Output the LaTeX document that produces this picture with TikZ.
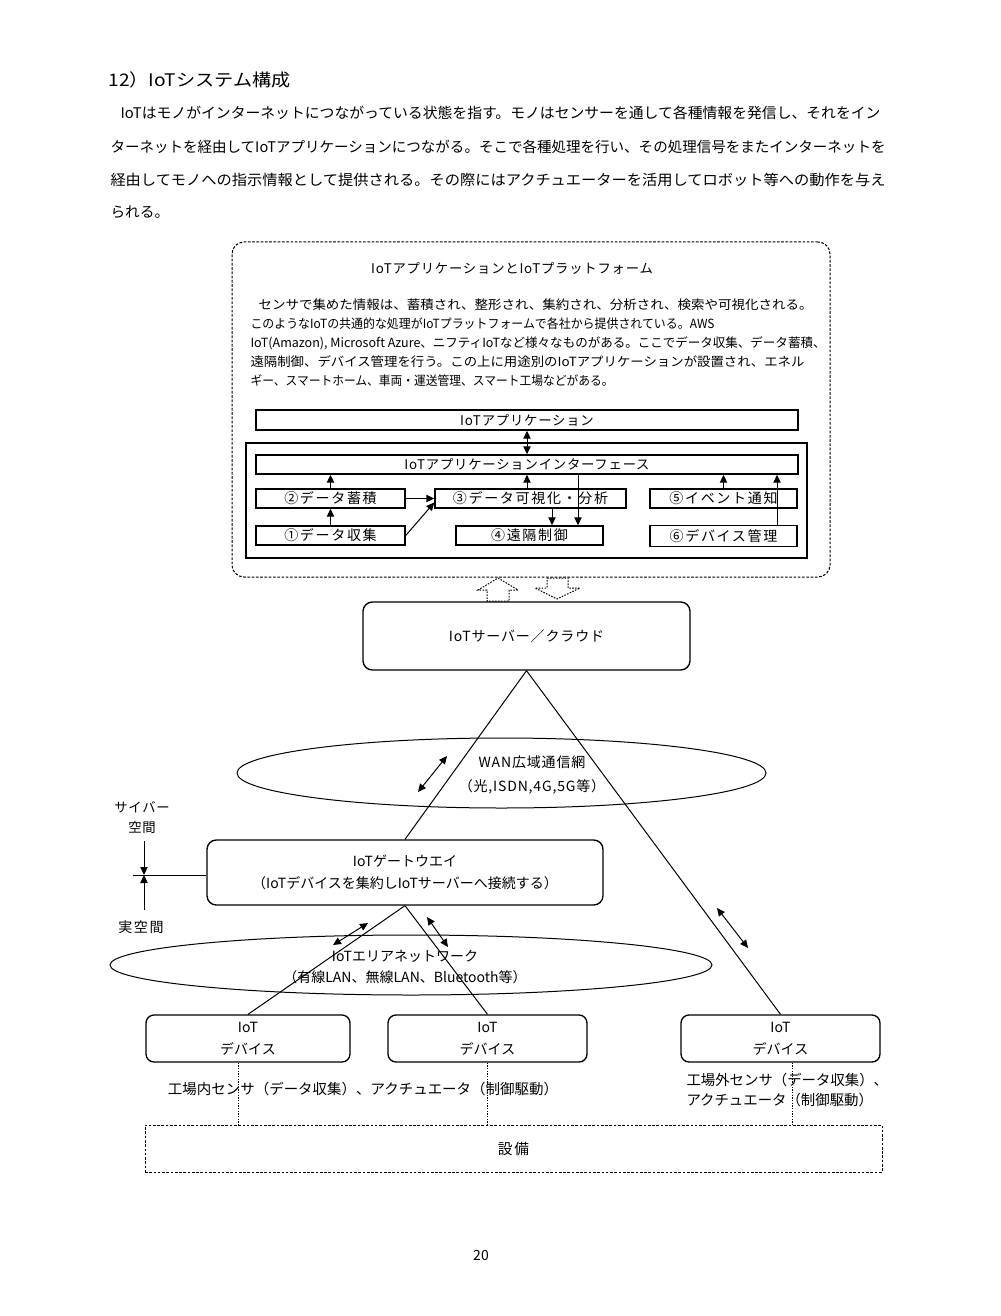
\documentclass[tikz,border=0pt]{standalone}
\usepackage{fontspec}
\usepackage{graphicx}
\setmainfont{Noto Sans CJK JP}
\newfontfamily\jpwide[LetterSpace=12]{Noto Sans CJK JP}
\newfontfamily\jpmid[LetterSpace=6]{Noto Sans CJK JP}
\usetikzlibrary{arrows.meta,calc,shapes.geometric}
\newcommand{\fitw}[2]{\resizebox{#1}{\height}{#2}}

\tikzset{every picture/.style={line width=0.75pt}}
\tikzset{
  fbox/.style={draw, line width=1.1pt, inner sep=0pt, minimum height=14.25pt, font=\jpwide\fontsize{10.5}{12}\selectfont},
  lbox/.style={draw, line width=1.1pt, inner sep=0pt, minimum width=406.5pt, font=\jpmid\fontsize{10}{11}\selectfont},
  rbox/.style={draw, line width=1pt, rounded corners=7pt, inner sep=0pt, align=center},
  oval/.style={draw, ellipse, inner sep=0pt},
  arr/.style={-{Triangle[length=6pt,width=5.5pt]}},
  darr/.style={{Triangle[length=6pt,width=5.5pt]}-{Triangle[length=6pt,width=5.5pt]}},
  hollow/.style={dash pattern=on 1.2pt off 1pt},
  dotline/.style={dash pattern=on 1pt off 1pt},
  ptext/.style={anchor=west, inner sep=0pt, font=\fontsize{9.5}{11}\selectfont},
  btext/.style={anchor=west, inner sep=0pt, font=\fontsize{11}{13}\selectfont}
}

\begin{document}
\begin{tikzpicture}[x=0.75pt,y=0.75pt,yscale=-1,xscale=1]
\useasboundingbox (0,0) rectangle (1000,1316);
\fill [white] (0,0) rectangle (1000,1316);

% Text Node
\node [anchor=west, inner sep=0pt, font=\fontsize{13}{15}\selectfont] (title) at (108,80) {\fitw{136.5pt}{12）IoTシステム構成}};
% Text Node
\node [btext] (para1) at (120,113) {\fitw{570pt}{IoTはモノがインターネットにつながっている状態を指す。モノはセンサーを通して各種情報を発信し、それをイン}};
% Text Node
\node [btext] (para2) at (110,147) {\fitw{581.25pt}{ターネットを経由してIoTアプリケーションにつながる。そこで各種処理を行い、その処理信号をまたインターネットを}};
% Text Node
\node [btext] (para3) at (110,180) {\fitw{581.25pt}{経由してモノへの指示情報として提供される。その際にはアクチュエーターを活用してロボット等への動作を与え}};
% Text Node
\node [btext] (para4) at (110,212) {られる。};

%Shape: Rounded Rect [id:platform]
\node [draw, dash pattern=on 2pt off 1.2pt, rounded corners=9pt, minimum width=448.5pt, minimum height=251.25pt] (platform) at (531,409.5) {};
% Text Node
\node [inner sep=0pt, font=\jpmid\fontsize{10}{11}\selectfont] (ptitle) at (512,268) {IoTアプリケーションとIoTプラットフォーム};
% Text Node
\node [ptext] (pline1) at (258,305) {\fitw{415.5pt}{センサで集めた情報は、蓄積され、整形され、集約され、分析され、検索や可視化される。}};
\node [ptext] (pline2) at (250,324) {\fitw{348pt}{このようなIoTの共通的な処理がIoTプラットフォームで各社から提供されている。AWS}};
\node [ptext] (pline3) at (250,343) {\fitw{431.25pt}{IoT(Amazon), Microsoft Azure、ニフティIoTなど様々なものがある。ここでデータ収集、データ蓄積、}};
\node [ptext] (pline4) at (250,362) {\fitw{415.5pt}{遠隔制御、デバイス管理を行う。この上に用途別のIoTアプリケーションが設置され、エネル}};
\node [ptext] (pline5) at (250,381) {\fitw{272.25pt}{ギー、スマートホーム、車両・運送管理、スマート工場などがある。}};

%Shape: Rectangle [id:app]
\node [lbox, minimum height=15pt] (app) at (527,420) {IoTアプリケーション};
%Shape: Rectangle [id:core]
\node [draw, line width=1pt, minimum width=420.75pt, minimum height=86.25pt] (core) at (526.5,500.5) {};
%Shape: Rectangle [id:iface]
\node [lbox, minimum height=14.25pt] (iface) at (527,464.5) {IoTアプリケーションインターフェース};
%Shape: Rectangle [id:store]
\node [fbox, minimum width=111.75pt] (store) at (330.5,498.5) {②データ蓄積};
\node [fbox, minimum width=111.75pt] (collect) at (330.5,535.5) {①データ収集};
\node [fbox, minimum width=143.25pt] (visual) at (530.5,498.5) {③データ可視化・分析};
\node [fbox, minimum width=110.25pt] (remote) at (529.5,535.5) {④遠隔制御};
\node [fbox, minimum width=110.25pt] (event) at (723.5,498.5) {⑤イベント通知};
\node [fbox, minimum width=110.25pt, minimum height=15.75pt] (devmgmt) at (723.5,536) {⑥デバイス管理};

%Straight Lines
\draw [darr] (app.south) -- (iface.north);
\draw [arr] (store.north) -- (store.north |- iface.south);
\draw [arr] (collect.north) -- (store.south);
\draw [arr] (store.east) -- (visual.west);
\draw [arr] (collect.east) -- ($(visual.west)+(0,4)$);
\draw [arr] (app.south |- visual.north) -- (app.south |- iface.south);
\coordinate (c34) at ($(visual.south)+(21.5,0)$);
\draw [arr] (c34) -- (c34 |- remote.north);
\coordinate (c4) at ($(remote.north)+(48.5,0)$);
\draw [arr] (c4 |- iface.south) -- (c4);
\draw [arr] (event.north) -- (event.north |- iface.south);
\coordinate (c6) at ($(devmgmt.north)+(53.5,0)$);
\draw [arr] (c6) -- (c6 |- iface.south);

%Shape: Up Arrow
\draw [hollow] (498,578) -- (518,590) -- (509,590) -- (509,601) -- (487,601) -- (487,590) -- (478,590) -- cycle;
%Shape: Down Arrow
\draw [hollow] (547,578) -- (568,578) -- (568,588) -- (580,588) -- (557,599) -- (535,588) -- (547,588) -- cycle;

%Shape: Rounded Rect [id:server]
\node [rbox, minimum width=245.25pt, minimum height=51pt, font=\jpmid\fontsize{10.5}{12}\selectfont] (server) at (526.5,636) {IoTサーバー／クラウド};

%Shape: Ellipse [id:wan]
\node [oval, minimum width=396.75pt, minimum height=52.5pt] (wan) at (501.5,773) {};
% Text Node
\node [inner sep=0pt, align=center, font=\jpmid\fontsize{10.5}{18}\selectfont] (wantxt) at (532,775) {WAN広域通信網\\（光,ISDN,4G,5G等）};

%Shape: Rounded Rect [id:gw]
\node [rbox, minimum width=297pt, minimum height=48.75pt, font=\fontsize{10.5}{16.5}\selectfont] (gw) at (405,872.5) {IoTゲートウエイ\\（IoTデバイスを集約しIoTサーバーへ接続する）};

%Straight Lines
\draw (server.south) -- (gw.north);
\coordinate (w1) at (447,756);
\coordinate (w2) at (418,792);
\draw [darr] (w1) -- (w2);

% Text Node
\node [inner sep=0pt, align=center, font=\jpmid\fontsize{10}{15}\selectfont] (cyber) at (142,818) {サイバー\\空間};
\node [inner sep=0pt, font=\jpwide\fontsize{10.5}{12}\selectfont] (real) at (141,927) {実空間};
\coordinate (bnd) at (133,875);
\draw (bnd) -- (gw.west |- bnd);
\coordinate (ca) at (144,841);
\draw [arr] (ca) -- (ca |- bnd);
\coordinate (ra) at (144,910);
\draw [arr] (ra) -- (ra |- bnd);

%Shape: Ellipse [id:area]
\node [oval, minimum width=451.5pt, minimum height=45pt] (area) at (411,965) {};
% Text Node
\node [inner sep=0pt, align=center, font=\fontsize{10.5}{15.75}\selectfont] (areatxt) at (405,967) {IoTエリアネットワーク\\（有線LAN、無線LAN、Bluetooth等）};

%Shape: Rounded Rect [id:dev]
\node [rbox, rounded corners=6pt, minimum width=153pt, minimum height=35.25pt, font=\fontsize{10.5}{16.5}\selectfont] (dev1) at (248,1038.5) {IoT\\デバイス};
\node [rbox, rounded corners=6pt, minimum width=149.25pt, minimum height=35.25pt, font=\fontsize{10.5}{16.5}\selectfont] (dev2) at (487.5,1038.5) {IoT\\デバイス};
\node [rbox, rounded corners=6pt, minimum width=149.25pt, minimum height=35.25pt, font=\fontsize{10.5}{16.5}\selectfont] (dev3) at (780.5,1038.5) {IoT\\デバイス};

%Straight Lines
\draw (gw.south) -- (dev1.north);
\draw (gw.south) -- (dev2.north);
\draw (server.south) -- (dev3.north);
\coordinate (a1) at (368,923);
\coordinate (a2) at (333,945);
\draw [darr] (a1) -- (a2);
\coordinate (a3) at (427,917);
\coordinate (a4) at (448,947);
\draw [darr] (a3) -- (a4);
\coordinate (a5) at (717,908);
\coordinate (a6) at (748,948);
\draw [darr] (a5) -- (a6);

%Shape: Rectangle [id:equip]
\node [draw, dash pattern=on 2pt off 1.2pt, minimum width=552.75pt, minimum height=35.25pt, font=\jpwide\fontsize{11}{13}\selectfont] (equip) at (513.5,1148.5) {設備};

% Text Node
\node [inner sep=0pt, font=\fontsize{10.8}{13}\selectfont] (insens) at (363,1089) {\fitw{292.5pt}{工場内センサ（データ収集）、アクチュエータ（制御駆動）}};
\node [anchor=north west, inner sep=0pt, align=left, font=\fontsize{10.8}{15}\selectfont] (outsens) at (686,1073) {工場外センサ（データ収集）、\\アクチュエータ（制御駆動）};

%Straight Lines
\coordinate (d1) at ($(dev1.south)+(-10,0)$);
\draw [dotline] (d1) -- (d1 |- equip.north);
\coordinate (d2) at (dev2.south);
\draw [dotline] (d2) -- (d2 |- equip.north);
\coordinate (d3) at ($(dev3.south)+(12,0)$);
\draw [dotline] (d3) -- (d3 |- equip.north);

% Text Node
\node [inner sep=0pt, font=\fontsize{10.5}{12}\selectfont] (pagenum) at (481,1255) {20};

\end{tikzpicture}
\end{document}
